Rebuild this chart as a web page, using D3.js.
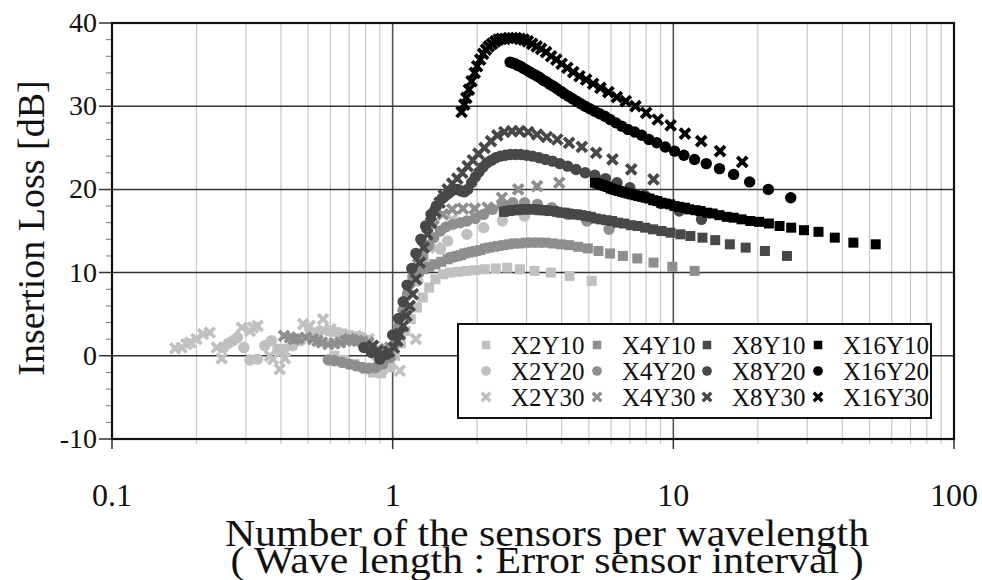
<!DOCTYPE html>
<html>
<head>
<meta charset="utf-8">
<script src="https://cdn.jsdelivr.net/npm/d3@7/dist/d3.min.js"></script>
<style>
  body { margin: 0; background: #fff; }
  svg { display: block; }
  text { font-family: "Liberation Serif", "Times New Roman", serif; fill: #111; }
</style>
</head>
<body>
<svg id="chart" width="982" height="580"></svg>
<script>
// series values: [sensors per wavelength, insertion loss dB]
var x2y10 = [[0.62,0.0],[0.67,-0.5],[0.73,-1.0],[0.8,-1.6],[0.85,-2.0],[0.91,-2.1],[0.98,-1.4],[1.02,0.0],[1.07,1.5],[1.11,3.0],[1.16,4.4],[1.22,5.8],[1.28,7.0],[1.35,8.2],[1.42,9.2],[1.51,9.8],[1.6,10.0],[1.71,10.1],[1.83,10.2],[1.97,10.3],[2.13,10.4],[2.33,10.5],[2.56,10.6],[2.84,10.4],[3.2,10.2],[3.66,10.0],[4.27,9.6],[5.12,9.0]];
var x2y20 = [[0.25,1.0],[0.26,1.5],[0.27,1.8],[0.28,2.2],[0.295,1.0],[0.31,-0.5],[0.33,-0.4],[0.35,1.2],[0.37,1.8],[0.39,0.8],[0.41,0.8],[0.44,1.2],[0.47,1.8],[0.51,2.8],[0.55,3.0],[0.59,3.0],[0.61,2.9],[0.64,2.8],[0.67,2.6],[0.7,2.4],[0.74,2.3],[0.78,2.2],[0.82,1.8],[0.87,0.0],[0.92,-1.8],[0.98,-1.2],[1.05,1.5],[1.13,5.5],[1.23,9.0],[1.34,11.0],[1.48,12.8],[1.57,13.8],[1.84,14.6],[2.11,15.4],[2.46,16.2],[2.95,16.8]];
var x2y30 = [[0.168,0.9],[0.177,1.0],[0.184,1.4],[0.19,1.6],[0.2,2.0],[0.211,2.6],[0.223,2.8],[0.236,1.0],[0.246,-0.3],[0.29,3.4],[0.31,3.0],[0.318,3.4],[0.33,3.6],[0.365,0.0],[0.375,-0.4],[0.396,-1.6],[0.413,-0.3],[0.48,3.8],[0.506,3.6],[0.565,4.4],[0.6,3.2],[0.66,2.6],[0.74,2.4],[0.82,2.0],[0.93,-0.6],[1.06,-1.8],[1.21,2.0],[1.43,13.0],[1.63,16.4],[1.96,17.6]];

var x4y10 = [[1.19,9.6],[1.24,10.1],[1.29,10.4],[1.35,10.7],[1.42,11.0],[1.49,11.3],[1.57,11.6],[1.61,11.8],[1.65,11.9],[1.7,12.0],[1.75,12.1],[1.8,12.3],[1.86,12.4],[1.92,12.5],[1.98,12.6],[2.05,12.7],[2.13,12.9],[2.2,13.0],[2.29,13.1],[2.38,13.2],[2.48,13.3],[2.59,13.4],[2.7,13.5],[2.83,13.5],[2.98,13.6],[3.13,13.6],[3.31,13.6],[3.5,13.6],[3.72,13.5],[3.97,13.4],[4.25,13.3],[4.58,13.1],[4.96,12.9],[5.41,12.6],[5.95,12.3],[6.61,12.0],[7.44,11.7],[8.5,11.2],[9.92,10.7],[11.9,10.2]];
var x4y20 = [[0.59,-0.5],[0.62,-0.6],[0.66,-0.8],[0.7,-1.0],[0.74,-1.2],[0.78,-1.4],[0.82,-1.5],[0.87,-1.4],[0.92,-1.0],[0.98,-0.2],[1.02,1.5],[1.05,3.5],[1.09,5.5],[1.13,7.5],[1.18,9.5],[1.23,10.8],[1.28,12.0],[1.34,13.2],[1.4,14.2],[1.48,15.0],[1.55,15.5],[1.64,15.8],[1.74,16.0],[1.84,16.2],[1.97,16.5],[2.11,17.0],[2.27,17.6],[2.46,18.2],[2.68,18.4],[2.95,18.4],[3.28,18.2],[3.69,17.8],[4.21,17.0],[4.92,16.2],[5.9,15.2]];
var x4y30 = [[0.41,2.4],[0.43,2.2],[0.445,2.0],[0.46,2.1],[0.49,2.2],[0.52,2.0],[0.54,1.8],[0.56,1.6],[0.59,1.4],[0.62,1.5],[0.65,1.6],[0.68,1.8],[0.7,2.0],[0.72,1.9],[0.75,1.8],[0.78,1.7],[0.82,1.6],[0.85,1.2],[0.89,0.8],[0.93,0.5],[0.98,1.0],[1.03,2.5],[1.09,5.0],[1.15,8.0],[1.23,11.0],[1.31,13.4],[1.4,15.6],[1.51,17.0],[1.63,17.6],[1.78,17.7],[1.96,17.7],[2.18,17.8],[2.45,19.0],[2.8,20.0],[3.27,20.4],[3.92,20.8]];

var x8y10 = [[2.49,17.3],[2.54,17.4],[2.59,17.4],[2.65,17.5],[2.7,17.5],[2.76,17.5],[2.82,17.6],[2.89,17.6],[2.95,17.6],[3.02,17.6],[3.1,17.6],[3.18,17.6],[3.26,17.6],[3.34,17.5],[3.43,17.5],[3.53,17.5],[3.63,17.4],[3.74,17.4],[3.85,17.3],[3.97,17.2],[4.1,17.2],[4.23,17.1],[4.38,17.0],[4.54,17.0],[4.7,16.9],[4.88,16.8],[5.08,16.7],[5.29,16.5],[5.52,16.4],[5.77,16.3],[6.05,16.2],[6.35,16.0],[6.68,15.9],[7.06,15.7],[7.47,15.6],[7.94,15.4],[8.47,15.2],[9.07,15.0],[9.77,14.8],[10.6,14.6],[11.5,14.4],[12.7,14.2],[14.1,13.9],[15.9,13.4],[18.1,13.0],[21.2,12.6],[25.4,12.0]];
var x8y20 = [[0.79,1.0],[0.84,0.4],[0.9,-0.4],[0.955,0.2],[1.0,2.5],[1.05,4.5],[1.09,6.5],[1.125,8.5],[1.17,10.5],[1.21,12.3],[1.26,14.0],[1.31,15.6],[1.37,17.0],[1.43,18.0],[1.5,18.9],[1.58,19.5],[1.62,19.8],[1.66,20.0],[1.7,20.0],[1.75,19.8],[1.8,19.7],[1.85,20.0],[1.91,20.8],[1.97,21.5],[2.03,22.1],[2.1,22.7],[2.17,23.2],[2.25,23.5],[2.33,23.8],[2.42,24.0],[2.52,24.1],[2.63,24.2],[2.74,24.2],[2.86,24.2],[3.0,24.1],[3.15,24.0],[3.32,23.8],[3.5,23.6],[3.71,23.4],[3.94,23.1],[4.2,22.8],[4.5,22.4],[4.85,22.0],[5.25,21.7],[5.73,21.3],[6.3,20.8],[7.0,20.2],[7.88,19.3],[9.0,18.3],[10.5,17.4],[12.6,16.4]];
var x8y30 = [[0.85,1.2],[0.885,0.6],[0.92,0.2],[0.97,0.5],[1.01,1.0],[1.04,1.8],[1.06,2.6],[1.09,3.6],[1.12,4.8],[1.15,6.0],[1.18,7.4],[1.21,9.2],[1.25,11.2],[1.29,13.0],[1.33,14.6],[1.37,16.0],[1.42,17.3],[1.47,18.4],[1.52,19.3],[1.57,20.0],[1.63,20.7],[1.7,21.3],[1.77,22.0],[1.85,22.8],[1.93,23.5],[2.02,24.3],[2.125,25.0],[2.24,25.8],[2.36,26.5],[2.5,26.9],[2.66,27.0],[2.83,27.0],[3.04,26.9],[3.27,26.6],[3.54,26.3],[3.86,26.0],[4.25,25.6],[4.72,25.1],[5.31,24.4],[6.07,23.6],[7.08,22.4],[8.5,21.2]];

var x16y10 = [[5.26,20.8],[5.37,20.7],[5.48,20.6],[5.6,20.5],[5.72,20.4],[5.84,20.3],[5.98,20.1],[6.12,20.0],[6.26,19.9],[6.41,19.8],[6.58,19.7],[6.74,19.6],[6.92,19.5],[7.11,19.4],[7.31,19.3],[7.51,19.2],[7.74,19.1],[7.97,19.0],[8.22,18.9],[8.48,18.7],[8.77,18.6],[9.07,18.4],[9.39,18.3],[9.74,18.2],[10.1,18.0],[10.5,17.9],[11.0,17.8],[11.4,17.6],[12.0,17.5],[12.5,17.4],[13.2,17.2],[13.8,17.1],[14.6,16.9],[15.5,16.7],[16.4,16.6],[17.5,16.4],[18.8,16.2],[20.2,16.1],[21.9,15.9],[23.9,15.6],[26.3,15.4],[29.2,15.1],[32.9,14.9],[37.6,14.2],[43.8,13.6],[52.6,13.4]];
var x16y20 = [[2.62,35.3],[2.67,35.2],[2.73,35.1],[2.79,34.9],[2.85,34.8],[2.91,34.6],[2.98,34.4],[3.05,34.2],[3.12,34.0],[3.2,33.8],[3.28,33.6],[3.36,33.4],[3.45,33.1],[3.54,32.9],[3.64,32.6],[3.74,32.4],[3.85,32.1],[3.97,31.8],[4.09,31.5],[4.23,31.2],[4.37,30.9],[4.52,30.6],[4.68,30.3],[4.85,30.0],[5.04,29.7],[5.24,29.4],[5.46,29.1],[5.7,28.8],[5.95,28.4],[6.24,28.0],[6.55,27.6],[6.89,27.2],[7.28,26.9],[7.71,26.5],[8.19,26.0],[8.73,25.6],[9.36,25.1],[10.1,24.6],[10.9,24.1],[11.9,23.6],[13.1,23.1],[14.6,22.5],[16.4,21.8],[18.7,20.9],[21.8,20.0],[26.2,19.0]];
var x16y30 = [[1.76,29.3],[1.8,30.2],[1.83,31.0],[1.87,32.0],[1.91,33.0],[1.96,34.0],[2.0,34.8],[2.05,35.6],[2.1,36.3],[2.15,36.8],[2.2,37.2],[2.26,37.5],[2.32,37.8],[2.38,38.0],[2.44,38.1],[2.51,38.1],[2.59,38.2],[2.67,38.2],[2.75,38.2],[2.84,38.1],[2.93,38.0],[3.03,37.8],[3.14,37.5],[3.26,37.2],[3.38,36.9],[3.52,36.5],[3.67,36.0],[3.83,35.6],[4.0,35.1],[4.19,34.6],[4.4,34.1],[4.63,33.6],[4.89,33.2],[5.18,32.7],[5.5,32.2],[5.87,31.7],[6.29,31.1],[6.77,30.6],[7.33,30.0],[8.0,29.2],[8.8,28.4],[9.78,27.7],[11.0,26.7],[12.57,25.8],[14.67,24.6],[17.6,23.3]];

var groups = ["X2", "X4", "X8", "X16"];
var levels = ["Y10", "Y20", "Y30"];
var groupColors = ["#c0c0c0", "#8e8e8e", "#484848", "#000000"];
var seriesData = {
    X2Y10: x2y10, X2Y20: x2y20, X2Y30: x2y30,
    X4Y10: x4y10, X4Y20: x4y20, X4Y30: x4y30,
    X8Y10: x8y10, X8Y20: x8y20, X8Y30: x8y30,
    X16Y10: x16y10, X16Y20: x16y20, X16Y30: x16y30
};
var xMajorTicks = [0.1, 1, 10, 100];
var yMajorTicks = [-10, 0, 10, 20, 30, 40];

var margin = { left: 112, top: 23, right: 954, bottom: 439 };
var svg = d3.select("#chart");

var x = d3.scaleLog().domain([0.1, 100]).range([margin.left, margin.right]);
var y = d3.scaleLinear().domain([-10, 40]).range([margin.bottom, margin.top]);

// minor log grid 2..9 per decade
var xMinor = [];
[0.1, 1, 10].forEach(function (d) {
    for (var k = 2; k <= 9; k++) xMinor.push(d * k);
});
var yMinor = d3.range(-10, 41, 2).filter(function (v) { return v % 10 !== 0; });

var grid = svg.append("g");
grid.selectAll("line.xminor")
    .data(xMinor)
    .enter().append("line")
    .attr("x1", function (d) { return x(d); })
    .attr("x2", function (d) { return x(d); })
    .attr("y1", margin.top)
    .attr("y2", margin.bottom + 5)
    .attr("stroke", "#c8c8c8")
    .attr("stroke-width", 1.2);
grid.selectAll("line.xmajor")
    .data([1, 10])
    .enter().append("line")
    .attr("x1", function (d) { return x(d); })
    .attr("x2", function (d) { return x(d); })
    .attr("y1", margin.top)
    .attr("y2", margin.bottom)
    .attr("stroke", "#555")
    .attr("stroke-width", 1.6);
grid.selectAll("line.ymajor")
    .data([0, 10, 20, 30])
    .enter().append("line")
    .attr("x1", margin.left - 13)
    .attr("x2", margin.right)
    .attr("y1", function (d) { return y(d); })
    .attr("y2", function (d) { return y(d); })
    .attr("stroke", "#333")
    .attr("stroke-width", 1.5);

// ticks outside the frame
grid.selectAll("line.yminortick")
    .data(yMinor)
    .enter().append("line")
    .attr("x1", margin.left - 6)
    .attr("x2", margin.left)
    .attr("y1", function (d) { return y(d); })
    .attr("y2", function (d) { return y(d); })
    .attr("stroke", "#777")
    .attr("stroke-width", 1);
grid.selectAll("line.ymajortick")
    .data([-10, 40])
    .enter().append("line")
    .attr("x1", margin.left - 13)
    .attr("x2", margin.left)
    .attr("y1", function (d) { return y(d); })
    .attr("y2", function (d) { return y(d); })
    .attr("stroke", "#333")
    .attr("stroke-width", 1.5);
grid.selectAll("line.xmajortick")
    .data(xMajorTicks)
    .enter().append("line")
    .attr("x1", function (d) { return x(d); })
    .attr("x2", function (d) { return x(d); })
    .attr("y1", margin.bottom)
    .attr("y2", margin.bottom + 10)
    .attr("stroke", "#333")
    .attr("stroke-width", 1.5);

// markers
var crossPath = "M-5,-5L5,5M-5,5L5,-5";
function drawMarker(sel, level, color, scale) {
    if (level === "Y10") {
        sel.append("rect")
            .attr("x", -5 * scale).attr("y", -5 * scale)
            .attr("width", 10 * scale).attr("height", 10 * scale)
            .attr("fill", color);
    } else if (level === "Y20") {
        sel.append("circle").attr("r", 5.7 * scale).attr("fill", color);
    } else {
        sel.append("path")
            .attr("d", crossPath)
            .attr("transform", "scale(" + scale + ")")
            .attr("stroke", color)
            .attr("stroke-width", 3.8)
            .attr("fill", "none");
    }
}

var plot = svg.append("g");
groups.forEach(function (g, gi) {
    levels.forEach(function (lv) {
        var pts = seriesData[g + lv];
        plot.append("g").selectAll("g")
            .data(pts)
            .enter().append("g")
            .attr("transform", function (d) { return "translate(" + x(d[0]) + "," + y(d[1]) + ")"; })
            .each(function () { drawMarker(d3.select(this), lv, groupColors[gi], 1); });
    });
});

// frame
svg.append("rect")
    .attr("x", margin.left).attr("y", margin.top)
    .attr("width", margin.right - margin.left)
    .attr("height", margin.bottom - margin.top)
    .attr("fill", "none")
    .attr("stroke", "#111")
    .attr("stroke-width", 2.2);

// tick labels
svg.selectAll("text.ylab")
    .data(yMajorTicks)
    .enter().append("text")
    .attr("x", margin.left - 15)
    .attr("y", function (d) { return y(d) + 9; })
    .attr("text-anchor", "end")
    .style("font-size", "28px")
    .text(function (d) { return d; });
svg.selectAll("text.xlab")
    .data(xMajorTicks)
    .enter().append("text")
    .attr("x", function (d) { return x(d); })
    .attr("y", 506)
    .attr("text-anchor", "middle")
    .style("font-size", "32px")
    .text(function (d) { return d; });

// axis titles
svg.append("text")
    .attr("transform", "translate(44,228) rotate(-90)")
    .attr("text-anchor", "middle")
    .style("font-size", "38px")
    .text("Insertion Loss [dB]");
svg.append("text")
    .attr("transform", "translate(547,546) scale(1.13,1)")
    .attr("text-anchor", "middle")
    .style("font-size", "37px")
    .text("Number of the sensors per wavelength");
svg.append("text")
    .attr("transform", "translate(547,573) scale(1.13,1)")
    .attr("text-anchor", "middle")
    .style("font-size", "37px")
    .text("( Wave length : Error sensor interval )");

// legend
var legend = svg.append("g");
legend.append("rect")
    .attr("x", 458).attr("y", 324)
    .attr("width", 473).attr("height", 94)
    .attr("fill", "#fff")
    .attr("stroke", "#111")
    .attr("stroke-width", 2);
var colX = [486, 597, 707, 818];
var rowY = [345, 371, 397];
groups.forEach(function (g, gi) {
    levels.forEach(function (lv, li) {
        var item = legend.append("g")
            .attr("transform", "translate(" + colX[gi] + "," + rowY[li] + ")");
        drawMarker(item, lv, groupColors[gi], 0.85);
        item.append("text")
            .attr("x", 25).attr("y", 9)
            .style("font-size", "25px")
            .text(g + lv);
    });
});
</script>
</body>
</html>
